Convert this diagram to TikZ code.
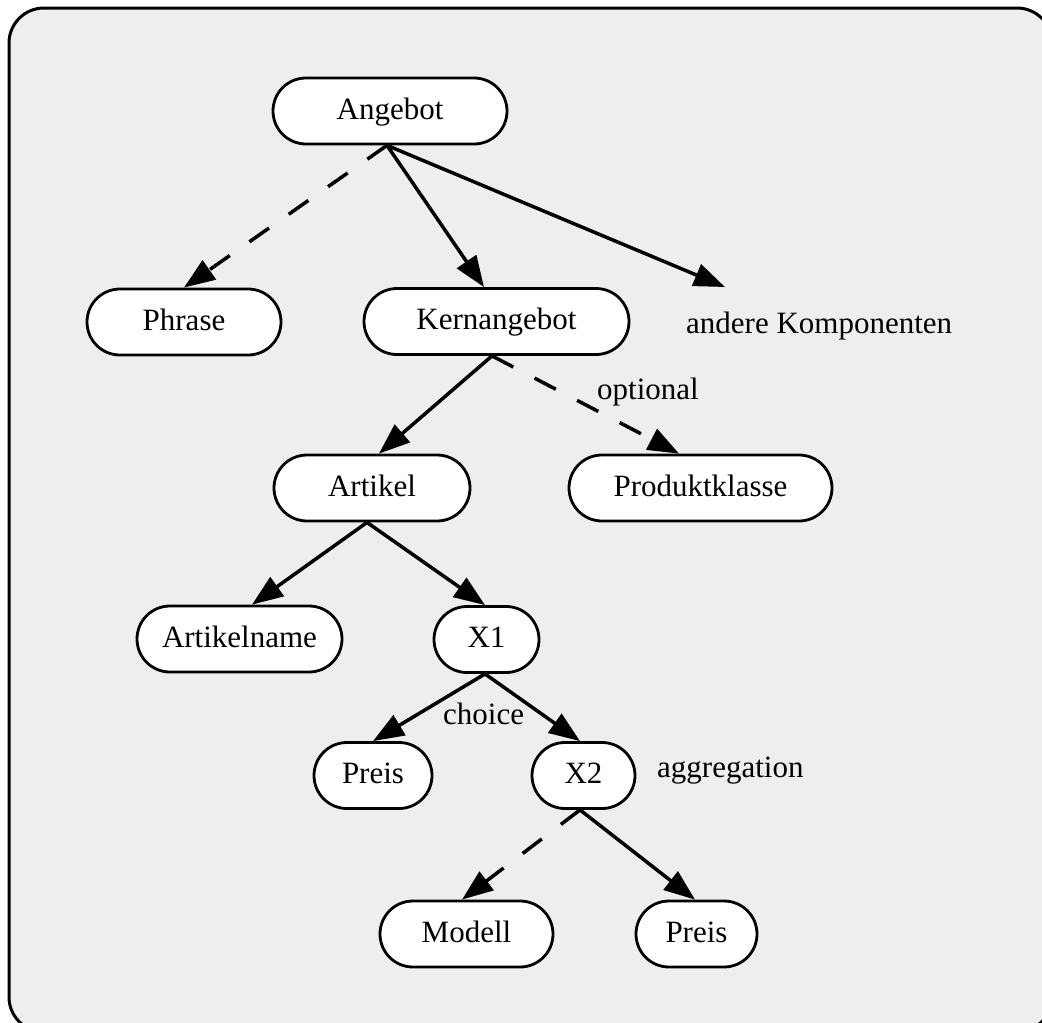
\documentclass[tikz,border=0pt]{standalone}
\usepackage{fontspec}
\setmainfont{Liberation Serif}
\usetikzlibrary{arrows.meta}
\definecolor{bg}{HTML}{EEEEEE}
\begin{document}
\begin{tikzpicture}[x=1pt,y=-1pt,
  font=\fontsize{31}{36}\selectfont,
  box/.style={draw, line width=2.8pt, fill=white, rounded corners=33pt,
    minimum height=66pt, inner sep=0pt, text height=21pt, text depth=5pt},
  edge/.style={line width=3.5pt, -{Triangle[length=31pt,width=23pt]}},
  optedge/.style={edge, dash pattern=on 24pt off 24pt},
  lbl/.style={anchor=base west, inner sep=0pt}]
\useasboundingbox (0,0) rectangle (1042,1023);
\draw[line width=3pt, fill=bg, rounded corners=35pt] (9,8) rectangle (1052,1032);

\node[box, minimum width=234pt] (angebot) at (390,111) {Angebot};
\node[box, minimum width=194pt] (phrase) at (184,322) {Phrase};
\node[box, minimum width=265pt] (kern) at (496.5,321.5) {Kernangebot};
\node[lbl] (andere) at (686,333) {andere Komponenten};
\coordinate (andereTip) at (725,287);
\node[box, minimum width=196pt] (artikel) at (372,488) {Artikel};
\node[box, minimum width=263pt] (produkt) at (700.5,488) {Produktklasse};
\node[lbl] (optional) at (597,399) {optional};
\node[box, minimum width=205pt] (aname) at (239.5,639) {Artikelname};
\node[box, minimum width=105pt] (xone) at (486.5,639.5) {X1};
\node[lbl] (choice) at (443,724) {choice};
\node[box, minimum width=118pt] (preisA) at (373,775.5) {Preis};
\node[box, minimum width=103pt] (xtwo) at (583.5,775.5) {X2};
\node[lbl] (aggr) at (657,777) {aggregation};
\node[box, minimum width=173pt] (modell) at (466.5,934) {Modell};
\node[box, minimum width=121pt] (preisB) at (696.5,934) {Preis};

\draw[optedge] ([xshift=-3pt]angebot.south) -- (phrase.north);
\draw[edge] ([xshift=-3pt]angebot.south) -- ([xshift=-12.5pt]kern.north);
\draw[edge] ([xshift=-3pt]angebot.south) -- (andereTip);
\draw[edge] ([xshift=-4.5pt]kern.south) -- ([xshift=7pt]artikel.north);
\draw[optedge] ([xshift=-4.5pt]kern.south) -- ([xshift=-21.5pt]produkt.north);
\draw[edge] ([xshift=-5pt]artikel.south) -- ([xshift=12.5pt]aname.north);
\draw[edge] ([xshift=-5pt]artikel.south) -- ([xshift=-1.5pt]xone.north);
\draw[edge] ([xshift=-1.5pt]xone.south) -- (preisA.north);
\draw[edge] ([xshift=-1.5pt]xone.south) -- ([xshift=-3.5pt]xtwo.north);
\draw[optedge] ([xshift=-3.5pt]xtwo.south) -- ([xshift=-4.5pt]modell.north);
\draw[edge] ([xshift=-3.5pt]xtwo.south) -- ([xshift=-1.5pt]preisB.north);
\end{tikzpicture}
\end{document}
